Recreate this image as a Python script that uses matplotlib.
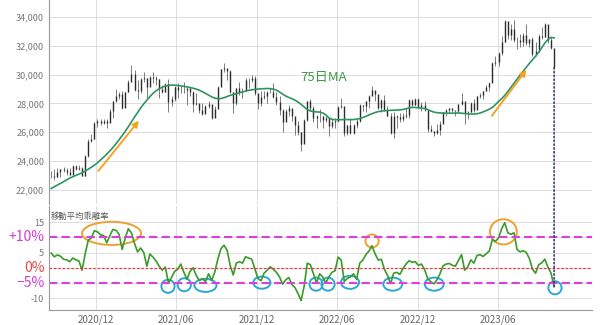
import numpy as np
import pandas as pd
import matplotlib
matplotlib.use("Agg")
import matplotlib.pyplot as plt
import matplotlib.dates as mdates
from matplotlib.patches import Ellipse, ConnectionPatch
from matplotlib.ticker import FuncFormatter

plt.rcParams['font.family'] = ['Noto Sans CJK JP', 'DejaVu Sans']

# weekly bars (week ending Friday), Aug 2020 - Oct 2023
weeks = pd.date_range("2020-08-21", periods=164, freq="7D")

close = [22920, 22882, 23205, 23406, 23360, 23204, 23029, 23620, 23410, 23516,
         22977, 24325, 25385, 25527, 26644, 26751, 26652, 26763, 26656, 27444,
         28139, 28519, 28631, 27663, 28779, 29520, 30018, 28966, 28864, 29717,
         29792, 29176, 29854, 29768, 29683, 29020, 28812, 29357, 28084, 28317,
         29149, 28941, 28948, 28964, 29066, 28783, 27940, 28003, 27548, 27283,
         27820, 27977, 27013, 27641, 29128, 30382, 30500, 30248, 28771, 28048,
         29068, 28804, 28892, 29611, 29609, 29745, 28751, 28029, 28437, 28545,
         28782, 28791, 28478, 28124, 27522, 26717, 27439, 27696, 27122, 26476,
         25985, 25162, 26827, 28149, 27665, 26985, 27093, 27105, 26847, 27003,
         26427, 26739, 26781, 27761, 27824, 25963, 26491, 25935, 26517, 26788,
         27914, 27801, 28175, 28546, 28930, 28641, 27650, 28214, 27567, 27153,
         25937, 27116, 27090, 26890, 27105, 27199, 28263, 27899, 28283, 27777,
         27901, 27527, 26235, 26094, 25973, 26119, 26553, 27382, 27509, 27670,
         27513, 27453, 27927, 28143, 27333, 27385, 28041, 27518, 28493, 28564,
         28856, 29157, 29388, 30808, 30916, 31524, 32265, 33706, 32781, 33189,
         32388, 32391, 32304, 32759, 32192, 32473, 31451, 31624, 32710, 32606,
         33533, 32402, 31858, 30526]

high = [23300, 23430, 23500, 23420, 23600, 23500, 23540, 23700, 23720, 23700,
        23550, 24400, 25500, 25900, 26700, 26900, 26900, 26900, 26900, 27600,
        28200, 28980, 28800, 28900, 28800, 29600, 30700, 30300, 29600, 29800,
        30200, 29800, 29900, 30200, 29900, 29700, 29300, 29400, 29700, 28500,
        29200, 29400, 29200, 29500, 29100, 29100, 28900, 28700, 27900, 28000,
        27900, 28200, 27700, 27800, 29200, 30400, 30800, 30400, 30300, 28800,
        29100, 29500, 29100, 29800, 29800, 29960, 29900, 28600, 28900, 28900,
        28900, 29100, 29400, 28800, 28500, 27600, 27600, 27900, 27300, 27000,
        26800, 26000, 26900, 28200, 28300, 27800, 27200, 27600, 27100, 27100,
        27000, 26900, 27000, 27800, 28400, 27600, 26500, 27000, 26600, 26900,
        27950, 27900, 28200, 28600, 29200, 28800, 28300, 28300, 28600, 27800,
        27300, 27400, 27200, 27300, 27300, 27700, 28300, 28300, 28400, 28400,
        28100, 28200, 27500, 26500, 26100, 26600, 26800, 27400, 27600, 27700,
        27700, 27500, 27950, 28700, 28000, 27500, 28100, 28300, 28500, 28700,
        28900, 29300, 29500, 30900, 31300, 31600, 32700, 33800, 33700, 33500,
        33800, 32600, 32800, 32900, 33500, 32500, 32600, 32300, 32800, 33300,
        33600, 33300, 32600, 31800]

low = [22800, 22700, 22900, 22900, 23250, 23000, 23000, 23200, 23400, 23350,
       22950, 22950, 24300, 25300, 25500, 26350, 26500, 26600, 26300, 26700,
       27000, 28100, 28300, 27600, 27800, 28800, 29600, 28900, 28300, 28700,
       29500, 28400, 29200, 29400, 29300, 28400, 28700, 28800, 27400, 27800,
       28200, 28400, 28700, 28700, 27900, 28500, 27400, 27900, 27300, 27200,
       27400, 27700, 26950, 27100, 27700, 29300, 30200, 29600, 28700, 27300,
       27900, 28600, 28400, 29000, 29100, 29500, 28600, 27600, 27800, 28300,
       28000, 28700, 28400, 27900, 27200, 26000, 26800, 27100, 26800, 25800,
       25800, 24700, 25300, 26800, 27500, 26700, 26300, 26700, 26300, 26700,
       25700, 26300, 26300, 26700, 27700, 25700, 25800, 25900, 25900, 26300,
       26700, 27500, 27400, 27700, 28700, 28200, 27600, 27400, 27500, 27100,
       25900, 25600, 26300, 26700, 26800, 27000, 27000, 27800, 27900, 27700,
       27500, 27500, 26000, 26000, 25700, 25900, 25800, 26700, 27100, 27300,
       27400, 27100, 27300, 27900, 26600, 26900, 27400, 27400, 27600, 28400,
       28300, 28900, 28900, 29600, 30600, 30600, 31400, 32300, 32500, 32400,
       32300, 31800, 31900, 32000, 32100, 31900, 31300, 31300, 31600, 32500,
       32600, 32200, 31800, 30500]

# 75-day moving average
ma75 = [22080, 22200, 22320, 22430, 22550, 22680, 22800, 22900, 22990, 23080,
        23170, 23290, 23420, 23560, 23700, 23870, 24060, 24260, 24470, 24690,
        24930, 25190, 25470, 25760, 26060, 26380, 26720, 27050, 27370, 27680,
        27970, 28230, 28480, 28700, 28880, 29020, 29130, 29210, 29260, 29280,
        29270, 29250, 29220, 29190, 29150, 29110, 29060, 29000, 28920, 28820,
        28700, 28580, 28460, 28370, 28330, 28340, 28400, 28480, 28560, 28620,
        28680, 28740, 28800, 28860, 28910, 28950, 28980, 29000, 29020, 29030,
        29040, 29030, 29000, 28930, 28800, 28650, 28520, 28420, 28330, 28230,
        28100, 27930, 27750, 27580, 27480, 27430, 27410, 27400, 27340, 27200,
        27000, 26900, 26870, 26860, 26870, 26880, 26880, 26870, 26880, 26900,
        26950, 27020, 27100, 27200, 27290, 27370, 27430, 27470, 27490, 27510,
        27520, 27530, 27540, 27550, 27580, 27630, 27690, 27730, 27720, 27690,
        27670, 27650, 27580, 27480, 27400, 27360, 27340, 27330, 27320, 27320,
        27320, 27330, 27340, 27320, 27300, 27280, 27260, 27260, 27280, 27330,
        27410, 27500, 27600, 27720, 27920, 28140, 28330, 28560, 28830, 29120,
        29420, 29710, 29980, 30250, 30520, 30790, 31040, 31290, 31560, 31880,
        32200, 32450, 32600, 32560]

# deviation from the moving average (%)
dev = [4.8, 3.6, 4.2, 3.8, 2.8, 2.6, 2.0, 3.2, 2.6, 2.2,
       -0.8, 4.5, 9.0, 9.8, 12.2, 11.8, 10.8, 10.6, 8.2, 10.5,
       12.6, 12.3, 11.0, 6.0, 9.8, 12.8, 11.5, 8.0, 5.2, 6.5,
       5.0, 0.5, 4.5, 3.5, 2.2, 0.5, -0.8, 0.2, -5.0, -3.2,
       -1.2, -0.5, 1.2, -1.5, -3.8, -1.2, 0.0, -2.5, -4.2, -3.6,
       -4.6, -2.0, -4.2, -1.5, 2.8, 6.2, 7.4, 5.8, 0.8, -2.4,
       1.5, 2.0, 1.5, 3.6, 3.2, 2.8, -0.3, -3.5, -4.3, -1.8,
       -0.8, 0.3, -0.5, -1.5, -3.0, -5.4, -4.0, -3.2, -5.5, -6.5,
       -8.5, -10.8, -6.0, 1.5, 1.0, -2.0, -5.0, -2.0, -3.0, -5.0,
       -3.0, -1.5, -1.0, 3.5, 2.5, -4.5, -3.5, -3.0, -2.0, -3.8,
       1.5, 2.5, 4.3, 5.5, 7.2, 4.5, 2.5, 2.8, -0.5, -2.5,
       -5.2, -1.8, -1.5, -2.2, -0.3, 1.2, 2.3, 1.8, 2.0, 0.8,
       1.2, -0.5, -3.5, -4.6, -5.3, -4.0, -2.0, 0.6, 1.2, 1.4,
       0.8, 0.5, 2.4, 4.3, -0.8, 0.2, 2.6, 1.5, 4.0, 4.3,
       3.7, 4.6, 5.5, 9.3, 8.7, 9.8, 12.8, 14.8, 11.5, 11.0,
       11.5, 6.0, 5.2, 5.6, 5.0, 3.0, -0.5, -1.8, 1.0, 1.6,
       2.8, 0.2, -1.8, -6.2]

# highlighted spots: (date, level, width in days, height in %)
hot_spots = [("2021-01-05", 11.3, 134, 7.6), ("2022-08-19", 8.8, 30, 4.3),
             ("2023-06-13", 11.8, 61, 8.3)]
cold_spots = [("2021-05-13", -6.1, 30, 4.3), ("2021-06-19", -5.6, 30, 4.3),
              ("2021-08-06", -5.8, 50, 4.3), ("2021-12-12", -4.9, 39, 4.0),
              ("2022-04-14", -5.4, 30, 4.3), ("2022-05-11", -5.4, 30, 4.3),
              ("2022-06-30", -4.8, 41, 4.3), ("2022-10-05", -5.4, 43, 4.3),
              ("2023-01-07", -5.4, 43, 4.3), ("2023-10-08", -6.6, 30, 4.3)]

tick_dates = ["2020-12-01", "2021-06-01", "2021-12-01",
              "2022-06-01", "2022-12-01", "2023-06-01"]

fig = plt.figure(figsize=(6, 3.25), dpi=100)
ax1 = fig.add_axes([49/600, 1 - 204/325, 543/600, 204/325])
ax2 = fig.add_axes([49/600, 15/325, 543/600, 104/325], sharex=ax1)

x = mdates.date2num(weeks)
opens = np.r_[close[0], close[:-1]]
ax1.vlines(x, low, high, color="#666666", lw=0.6)
ax1.vlines(x, np.minimum(opens, close), np.maximum(opens, close),
           color="#2b2b2b", lw=1.0)
ax1.plot(x, ma75, color="#2f9460", lw=1.2)

ax1.set_xlim(mdates.datestr2num("2020-08-16"), mdates.datestr2num("2023-12-31"))
ax1.set_ylim(21000, 35200)
ax1.set_yticks(range(22000, 34001, 2000))
ax1.yaxis.set_major_formatter(FuncFormatter(lambda v, p: f"{v:,.0f}"))

grid = "#dddddd"
for ax in (ax1, ax2):
    ax.set_xticks(mdates.datestr2num(tick_dates))
    ax.grid(True, color=grid, lw=0.7)
    ax.set_axisbelow(True)
    for s in ("top", "right"):
        ax.spines[s].set_visible(False)
    ax.spines["left"].set_color("#999999")
    ax.tick_params(length=0, labelsize=6.5, colors="#777777")
ax1.spines["bottom"].set_visible(False)
ax1.tick_params(labelbottom=False)

ax1.text(mdates.datestr2num("2022-04-30"), 29800, "75日MA", color="#3f9a45",
         fontsize=9.5, ha="center", va="center")

arrow = dict(arrowstyle="-|>", color="#f4a320", lw=1.4, mutation_scale=9)
ax1.annotate("", xy=(mdates.datestr2num("2021-03-12"), 26950),
             xytext=(mdates.datestr2num("2020-12-02"), 23150), arrowprops=arrow)
ax1.annotate("", xy=(mdates.datestr2num("2023-08-08"), 30500),
             xytext=(mdates.datestr2num("2023-05-14"), 26980), arrowprops=arrow)

# deviation panel
ax2.plot(x, dev, color="#3a9a2a", lw=1.2)
ax2.set_ylim(-13.9, 20.3)
ax2.set_yticks([15, 10, 5, 0, -5, -10])
ax2.set_yticklabels(["15", "", "5", "", "", "-10"])
ax2.spines["bottom"].set_color("#999999")
ax2.xaxis.set_major_formatter(mdates.DateFormatter("%Y/%m"))
ax2.tick_params(axis="x", labelsize=7, colors="#666666", pad=3)

ax2.axhline(10, color="#dd3fdd", lw=1.5, dashes=(4, 2))
ax2.axhline(-5, color="#dd3fdd", lw=1.5, dashes=(4, 2))
ax2.axhline(0, color="#e83a3a", lw=0.9, dashes=(2, 1.5))

ytr = ax2.get_yaxis_transform()
ax2.text(-0.008, 10, "+10%", transform=ytr, ha="right", va="center",
         color="#d63ad6", fontsize=10)
ax2.text(-0.008, 0, "0%", transform=ytr, ha="right", va="center",
         color="#e04a4a", fontsize=10)
ax2.text(-0.008, -5, "\u22125%", transform=ytr, ha="right", va="center",
         color="#d63ad6", fontsize=10)
ax2.text(0.003, 0.94, "移動平均乖離率", transform=ax2.transAxes, ha="left",
         va="top", fontsize=6, color="#555555")

for d, lvl, w, h in hot_spots:
    ax2.add_patch(Ellipse((mdates.datestr2num(d), lvl), w, h, fill=False,
                          ec="#f0a030", lw=1.4))
for d, lvl, w, h in cold_spots:
    ax2.add_patch(Ellipse((mdates.datestr2num(d), lvl), w, h, fill=False,
                          ec="#29a8d8", lw=1.4))

# last session marker
con = ConnectionPatch(xyA=(x[-1], low[-1]), coordsA=ax1.transData,
                      xyB=(x[-1], dev[-1]), coordsB=ax2.transData,
                      color="#26317a", lw=1.1, linestyle=(0, (1, 1.5)))
fig.add_artist(con)

fig.savefig("out.png", dpi=100)
